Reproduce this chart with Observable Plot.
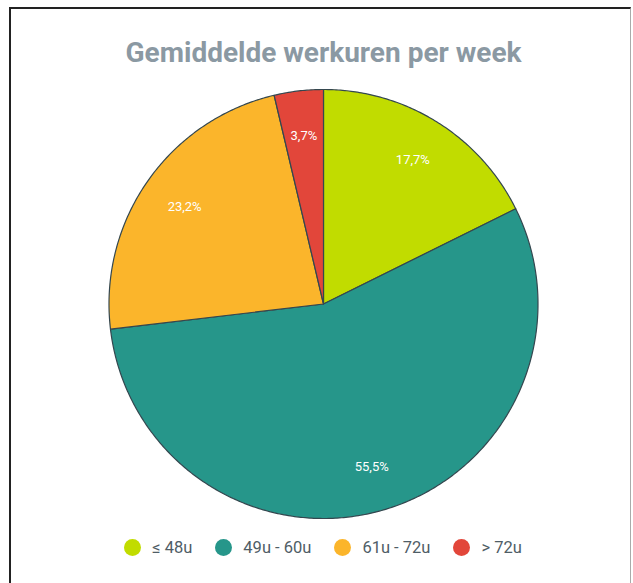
<!DOCTYPE html>
<html>
<head>
<meta charset="utf-8">
<script src="https://cdn.jsdelivr.net/npm/d3@7"></script>
<script src="https://cdn.jsdelivr.net/npm/@observablehq/plot@0.6"></script>
<style>
  html, body { margin: 0; padding: 0; background: #fff; }
  body { width: 633px; height: 583px; position: relative; overflow: hidden; font-family: Roboto, "Noto Sans", sans-serif; }
  #frame { position: absolute; left: 9px; top: 7px; width: 622px; height: 590px; border-left: 2px solid #222; border-top: 2px solid #222; border-right: 1px solid #aaa; box-sizing: border-box; background: #fff; }
  #title { position: absolute; left: 0; width: 647px; top: 36px; text-align: center; font-size: 28px; font-weight: 700; color: #8b99a3; }
  #chart { position: absolute; left: 0; top: 80px; }
  #legend { position: absolute; left: 0; width: 646px; top: 538px; display: flex; justify-content: center; align-items: center; font-size: 16.5px; color: #4f5d66; }
  .item { display: flex; align-items: center; margin: 0 11.5px; }
  .dot { width: 17px; height: 17px; border-radius: 50%; margin-right: 11px; }
</style>
</head>
<body>
<div id="frame"></div>
<div id="title">Gemiddelde werkuren per week</div>
<div id="chart"></div>
<div id="legend"></div>
<script>
const categories = ["≤ 48u", "49u - 60u", "61u - 72u", "> 72u"];
const values = [17.7, 55.5, 23.2, 3.7];
const labels = ["17,7%", "55,5%", "23,2%", "3,7%"];
const colors = ["#c1dc00", "#26968a", "#fbb52b", "#e2463a"];

const arcs = d3.pie().sort(null).value(d => d)(values);
const poly = [];
arcs.forEach((a, i) => {
  const cat = categories[i];
  poly.push({cat, x: 0, y: 0});
  const n = Math.max(4, Math.ceil((a.endAngle - a.startAngle) / 0.01));
  for (let k = 0; k <= n; k++) {
    const t = a.startAngle + (a.endAngle - a.startAngle) * k / n;
    poly.push({cat, x: Math.sin(t), y: Math.cos(t)});
  }
  poly.push({cat, x: 0, y: 0});
});
const labelData = arcs.map((a, i) => {
  const m = (a.startAngle + a.endAngle) / 2;
  return {cat: categories[i], label: labels[i], x: 0.79 * Math.sin(m), y: 0.79 * Math.cos(m)};
});

const chart = Plot.plot({
  width: 633,
  height: 450,
  marginLeft: 108.5,
  marginRight: 95.5,
  marginTop: 9,
  marginBottom: 12,
  x: {domain: [-1, 1], axis: null},
  y: {domain: [-1, 1], axis: null},
  color: {domain: categories, range: colors},
  style: {background: "transparent", fontFamily: "Roboto, sans-serif"},
  marks: [
    Plot.line(poly, {x: "x", y: "y", z: "cat", fill: "cat", stroke: "#34474f", strokeWidth: 1.2, curve: "linear-closed"}),
    Plot.text(labelData, {x: "x", y: "y", text: "label", fill: "white", fontSize: 13})
  ]
});
document.getElementById("chart").appendChild(chart);

const legend = document.getElementById("legend");
categories.forEach((c, i) => {
  const item = document.createElement("div");
  item.className = "item";
  const dot = document.createElement("span");
  dot.className = "dot";
  dot.style.background = colors[i];
  const txt = document.createElement("span");
  txt.textContent = c;
  item.appendChild(dot);
  item.appendChild(txt);
  legend.appendChild(item);
});
</script>
</body>
</html>
